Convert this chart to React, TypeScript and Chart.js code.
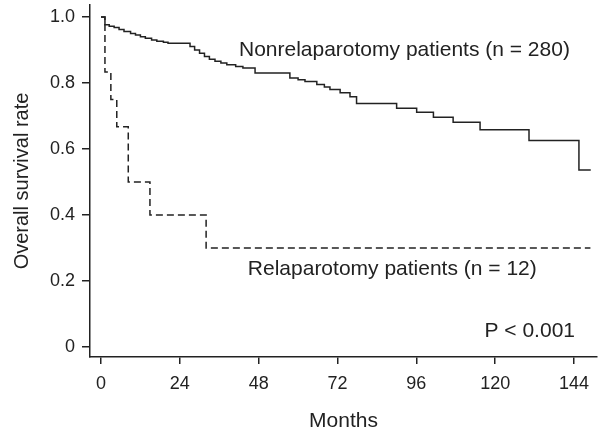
import React, { useEffect, useRef } from "react";
import { Chart, registerables } from "chart.js";

Chart.register(...registerables);

// Axis ticks
const xTicks = [0, 24, 48, 72, 96, 120, 144];
const yTicks = [0, 0.2, 0.4, 0.6, 0.8, 1.0];
const yTickLabels = ["0", "0.2", "0.4", "0.6", "0.8", "1.0"];

// Nonrelaparotomy patients (n = 280): Kaplan-Meier steps (months, survival)
const nonRelapMonths = [
  0, 1.2, 2.5, 4, 5.5, 7, 9, 10.5, 12, 13.5, 15.4, 17, 19, 20.4,
  27.1, 28.5, 30, 31.5, 33, 34.7, 36.5, 38.3, 41, 43.2, 46.9,
  57.5, 60, 62.1, 65.7, 68, 69.7, 72.8, 75.8, 77.8,
  90, 96.1, 101.2, 107.2, 115.4, 130.3, 145.5, 149.1,
];
const nonRelapSurvival = [
  1.0, 0.976, 0.972, 0.968, 0.962, 0.956, 0.95, 0.945, 0.94, 0.935, 0.93, 0.926, 0.923, 0.92,
  0.91, 0.9, 0.89, 0.88, 0.872, 0.866, 0.86, 0.855, 0.85, 0.845, 0.83,
  0.815, 0.81, 0.804, 0.795, 0.788, 0.78, 0.77, 0.758, 0.738,
  0.723, 0.711, 0.696, 0.681, 0.658, 0.626, 0.536, 0.536,
];

// Relaparotomy patients (n = 12)
const relapMonths = [0, 1.2, 3.0, 4.8, 8.3, 14.9, 32.0, 149.0];
const relapSurvival = [1.0, 0.833, 0.75, 0.667, 0.5, 0.4, 0.3, 0.3];

const labelNonRelap = "Nonrelaparotomy patients (n = 280)";
const labelRelap = "Relaparotomy patients (n = 12)";
const labelP = "P < 0.001";

const FONT = "'Liberation Sans', Arial, Helvetica, sans-serif";
const INK = "#222222";

const textPlugin = {
  id: "kmText",
  afterDatasetsDraw(chart: any) {
    const { ctx, scales } = chart;
    const x = scales.x;
    const y = scales.y;
    ctx.save();
    ctx.font = `21px ${FONT}`;
    ctx.fillStyle = INK;
    ctx.textBaseline = "alphabetic";
    ctx.textAlign = "left";
    ctx.fillText(labelNonRelap, x.getPixelForValue(42.0), y.getPixelForValue(0.882));
    ctx.fillText(labelRelap, x.getPixelForValue(44.7), y.getPixelForValue(0.218));
    ctx.textAlign = "right";
    ctx.fillText(labelP, x.getPixelForValue(144.3), y.getPixelForValue(0.031));
    ctx.restore();
  },
};

export default function App() {
  const ref = useRef<HTMLCanvasElement | null>(null);

  useEffect(() => {
    document.body.style.margin = "0";
    const canvas = ref.current;
    if (!canvas) return;
    const chart = new Chart(canvas, {
      type: "line",
      data: {
        datasets: [
          {
            label: labelNonRelap,
            data: nonRelapMonths.map((m, i) => ({ x: m, y: nonRelapSurvival[i] })),
            borderColor: INK,
            borderWidth: 1.5,
            pointRadius: 0,
            stepped: "before",
            fill: false,
          },
          {
            label: labelRelap,
            data: relapMonths.map((m, i) => ({ x: m, y: relapSurvival[i] })),
            borderColor: INK,
            borderWidth: 1.5,
            borderDash: [7, 4],
            pointRadius: 0,
            stepped: "before",
            fill: false,
          },
        ],
      },
      options: {
        animation: false,
        responsive: true,
        maintainAspectRatio: false,
        layout: { padding: { top: 5, right: 6, left: 0, bottom: 0 } },
        plugins: {
          legend: { display: false },
          tooltip: { enabled: false },
        },
        scales: {
          x: {
            type: "linear",
            min: -3.35,
            max: 151,
            afterBuildTicks: (axis: any) => {
              axis.ticks = xTicks.map((v) => ({ value: v }));
            },
            afterFit: (s: any) => {
              s.height = 77;
              s.paddingLeft = 0;
              s.paddingRight = 0;
            },
            grid: {
              drawOnChartArea: false,
              drawTicks: true,
              tickLength: 7,
              color: INK,
              lineWidth: 1.5,
            },
            border: { display: true, color: INK, width: 1.5 },
            ticks: {
              color: INK,
              font: { family: FONT, size: 18 },
              padding: 9,
              maxRotation: 0,
              callback: (v: any) => String(v),
            },
            title: {
              display: true,
              text: "Months",
              color: INK,
              font: { family: FONT, size: 21 },
              padding: { top: 0, bottom: 0 },
            },
          },
          y: {
            type: "linear",
            min: -0.03,
            max: 1.036,
            afterBuildTicks: (axis: any) => {
              axis.ticks = yTicks.map((v) => ({ value: v }));
            },
            afterFit: (s: any) => {
              s.width = 90;
              s.paddingTop = 0;
              s.paddingBottom = 0;
            },
            grid: {
              drawOnChartArea: false,
              drawTicks: true,
              tickLength: 8,
              color: INK,
              lineWidth: 1.5,
            },
            border: { display: true, color: INK, width: 1.5 },
            ticks: {
              color: INK,
              font: { family: FONT, size: 18 },
              padding: 7,
              callback: (_v: any, i: number) => yTickLabels[i],
            },
            title: {
              display: true,
              text: "Overall survival rate",
              color: INK,
              font: { family: FONT, size: 20 },
              padding: { top: 10, bottom: 0 },
            },
          },
        },
      },
      plugins: [textPlugin],
    });
    return () => chart.destroy();
  }, []);

  return (
    <div style={{ width: 603, height: 434, position: "relative" }}>
      <canvas ref={ref} />
    </div>
  );
}
